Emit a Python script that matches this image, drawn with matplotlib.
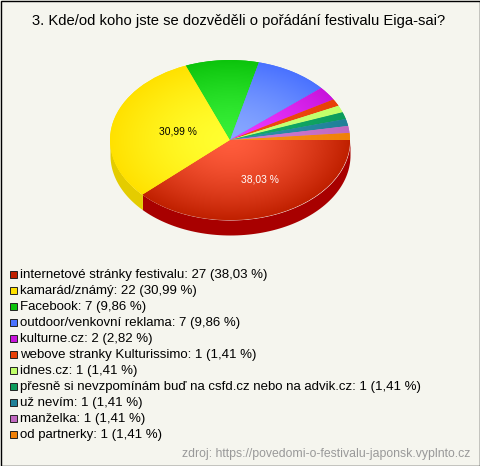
import numpy as np
import matplotlib
matplotlib.use('Agg')
import matplotlib.pyplot as plt
from matplotlib.patches import Rectangle

plt.rcParams['font.family'] = ['Liberation Sans', 'DejaVu Sans']

title = '3. Kde/od koho jste se dozvěděli o pořádání festivalu Eiga-sai?'
source = 'zdroj: https://povedomi-o-festivalu-japonsk.vyplnto.cz'
categories = ['internetové stránky festivalu', 'kamarád/známý', 'Facebook',
	'outdoor/venkovní reklama', 'kulturne.cz', 'webove stranky Kulturissimo',
	'idnes.cz', 'přesně si nevzpomínám buď na csfd.cz nebo na advik.cz',
	'už nevím', 'manželka', 'od partnerky']
counts = [27, 22, 7, 7, 2, 1, 1, 1, 1, 1, 1]
percents = ['38,03', '30,99', '9,86', '9,86', '2,82', '1,41', '1,41', '1,41',
	'1,41', '1,41', '1,41']

# base colour (legend / rim of the slice) and light colour in the middle
colors = ['#c02000', '#ffe100', '#0cc40c', '#4a72ff', '#c814dc', '#e84008',
	'#c0ff68', '#0c9c5c', '#208098', '#c068c0', '#f08008']
lights = ['#ff5c3c', '#ffff30', '#38f038', '#88a8ff', '#ec38ff', '#f04c10',
	'#c8ff78', '#14ac68', '#2c90a8', '#d07cd0', '#f89018']
sides = ['#a80000', '#e4cc00']

W, H = 480, 466
bg = '#f5f5ee'
cx, cy, rx, ry, depth = 230, 140, 120, 80, 15

fig = plt.figure(figsize=(W / 100, H / 100), dpi=100, facecolor=bg)

# pie axes: data range -1..1 stretched to the ellipse
ax = fig.add_axes([(cx - rx) / W, 1 - (cy + ry) / H, 2 * rx / W, 2 * ry / H])
wedges, _ = ax.pie(counts, colors=colors, startangle=0, counterclock=False, radius=1)
ax.set_aspect('auto')

fr = np.array(counts) / sum(counts)
ends = np.cumsum(fr) * 2 * np.pi
starts = ends - fr * 2 * np.pi

# side wall, only the part facing us
d = depth / ry
for i in range(len(counts)):
	a0, a1 = starts[i], min(ends[i], np.pi)
	if a0 >= np.pi:
		continue
	t = np.linspace(a0, a1, 80)
	x = np.cos(t)
	y = -np.sin(t)
	ax.fill_between(x, y - d, y, color=sides[i], lw=0, clip_on=False, zorder=0)

# radial gradient clipped to each slice
yy, xx = np.mgrid[-1:1:300j, -1:1:300j]
rr = np.clip(np.hypot(xx, yy), 0, 1)[..., None] ** 1.5
for w, base, light in zip(wedges, colors, lights):
	c0 = np.array(matplotlib.colors.to_rgb(light))
	c1 = np.array(matplotlib.colors.to_rgb(base))
	img = c0 + (c1 - c0) * rr
	im = ax.imshow(img, extent=(-1, 1, -1, 1), origin='lower', aspect='auto', zorder=2)
	im.set_clip_path(w)
ax.set_xlim(-1, 1)
ax.set_ylim(-1, 1)

# percent labels on the two big slices
for i, col, r, dx in [(0, 'white', 0.54, 6), (1, 'black', 0.45, 1)]:
	mid = (starts[i] + ends[i]) / 2
	ax.annotate(percents[i] + ' %', (r * np.cos(mid), -r * np.sin(mid)), xytext=(dx * 0.72, 0.7),
		textcoords='offset points', ha='center', va='center', color=col, fontsize=7.4, zorder=5)

# overlay in pixel coordinates for texts and legend
ov = fig.add_axes([0, 0, 1, 1], facecolor='none')
ov.set_xlim(0, W)
ov.set_ylim(H, 0)
ov.axis('off')
ov.add_patch(Rectangle((0.5, 0.5), W - 1, H - 1, fc='none', ec='black', lw=1))
ov.text(238.5, 21, title, ha='center', va='center', fontsize=10.65, color='black')
for i, name in enumerate(categories):
	y = 274.5 + 16 * i
	ov.add_patch(Rectangle((9.5, y - 3.5), 7, 7, fc=colors[i], ec='#222222', lw=0.7))
	ov.text(20, y + 0.8, '%s: %d (%s %%)' % (name, counts[i], percents[i]), ha='left', va='center',
		fontsize=9.55, color='black')
ov.text(470, 454, source, ha='right', va='center', fontsize=8.8, color='#999999')

fig.savefig('out.png', dpi=100, facecolor=bg)
